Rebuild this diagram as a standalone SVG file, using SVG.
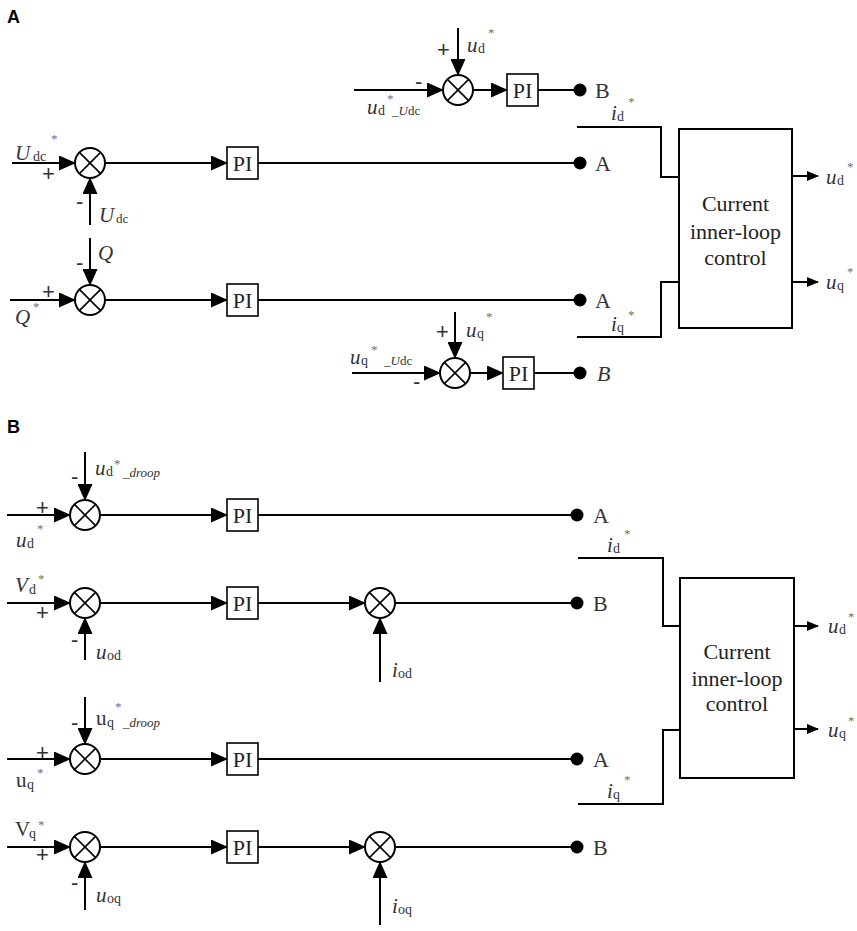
<svg xmlns="http://www.w3.org/2000/svg" width="857" height="931" viewBox="0 0 857 931">
<defs>
<marker id="ah" markerUnits="userSpaceOnUse" markerWidth="17" markerHeight="15" viewBox="0 0 17 15" refX="16" refY="7.5" orient="auto"><path d="M0,0 L17,7.5 L0,15 z" fill="#000"/></marker>
<marker id="ahs" markerUnits="userSpaceOnUse" markerWidth="12" markerHeight="10" viewBox="0 0 12 10" refX="11" refY="5" orient="auto"><path d="M0,0 L12,5 L0,10 z" fill="#000"/></marker>
</defs>
<style>
.ln{stroke:#000;stroke-width:2;fill:none}
.a{marker-end:url(#ah)}
.as{marker-end:url(#ahs)}
.sum circle{fill:#fff;stroke:#000;stroke-width:2}
.sum line{stroke:#000;stroke-width:1.6}
.pi rect{fill:#fff;stroke:#000;stroke-width:1.6}
.pi text,.blk text{font-family:"Liberation Serif","Times New Roman",serif;font-size:22px;fill:#222;text-anchor:middle}
.blk rect{fill:#fff;stroke:#000;stroke-width:2}
.dot{fill:#000}
.t{font-family:"Liberation Serif","Times New Roman",serif;fill:#333;font-size:21px}
.it{font-style:italic}
.s{font-size:14px}
.ss{font-size:13px}
.st{font-size:13px;fill:#707070}
.sg{font-family:"Liberation Sans",Arial,sans-serif;font-size:22px;fill:#333}
.pl{font-family:"Liberation Sans",Arial,sans-serif;font-weight:bold;font-size:18px;fill:#000}
.ab{font-family:"Liberation Serif","Times New Roman",serif;font-size:22px;fill:#333}
</style>

<!-- panel labels -->
<text class="pl" x="7" y="23">A</text>
<text class="pl" x="7" y="433">B</text>

<!-- connectors -->
<g id="connectors">
  <!-- Panel A row Udc -->
  <line class="ln a" x1="12" y1="163" x2="75" y2="163"/>
  <line class="ln a" x1="90" y1="225" x2="90" y2="178"/>
  <line class="ln a" x1="105" y1="163" x2="227" y2="163"/>
  <line class="ln" x1="258" y1="163" x2="580" y2="163"/>
  <!-- Panel A row Q -->
  <line class="ln a" x1="10" y1="300" x2="75" y2="300"/>
  <line class="ln a" x1="90" y1="238" x2="90" y2="285"/>
  <line class="ln a" x1="105" y1="300" x2="227" y2="300"/>
  <line class="ln" x1="258" y1="300" x2="580" y2="300"/>
  <!-- top sum -->
  <line class="ln a" x1="354" y1="90" x2="443" y2="90"/>
  <line class="ln a" x1="458" y1="28" x2="458" y2="75"/>
  <line class="ln a" x1="473" y1="90" x2="507" y2="90"/>
  <line class="ln" x1="538" y1="90" x2="580" y2="90"/>
  <!-- bottom sum A -->
  <line class="ln a" x1="352" y1="373" x2="440" y2="373"/>
  <line class="ln a" x1="455" y1="312" x2="455" y2="358"/>
  <line class="ln a" x1="470" y1="373" x2="503" y2="373"/>
  <line class="ln" x1="534" y1="373" x2="580" y2="373"/>
  <!-- A block inputs / outputs -->
  <polyline class="ln" points="577,127 661,127 661,177 679,177"/>
  <polyline class="ln" points="577,337 661,337 661,282 679,282"/>
  <line class="ln as" x1="792" y1="176" x2="818" y2="176"/>
  <line class="ln as" x1="792" y1="282" x2="818" y2="282"/>

  <!-- Panel B row 1 -->
  <line class="ln a" x1="7" y1="515" x2="70" y2="515"/>
  <line class="ln a" x1="85" y1="452" x2="85" y2="500"/>
  <line class="ln a" x1="100" y1="515" x2="227" y2="515"/>
  <line class="ln" x1="258" y1="515" x2="577" y2="515"/>
  <!-- row 2 -->
  <line class="ln a" x1="7" y1="603" x2="70" y2="603"/>
  <line class="ln a" x1="85" y1="660" x2="85" y2="618"/>
  <line class="ln a" x1="100" y1="603" x2="227" y2="603"/>
  <line class="ln a" x1="258" y1="603" x2="365" y2="603"/>
  <line class="ln a" x1="380" y1="682" x2="380" y2="618"/>
  <line class="ln" x1="395" y1="603" x2="577" y2="603"/>
  <!-- row 3 -->
  <line class="ln a" x1="7" y1="759" x2="70" y2="759"/>
  <line class="ln a" x1="85" y1="697" x2="85" y2="744"/>
  <line class="ln a" x1="100" y1="759" x2="227" y2="759"/>
  <line class="ln" x1="258" y1="759" x2="577" y2="759"/>
  <!-- row 4 -->
  <line class="ln a" x1="7" y1="847" x2="70" y2="847"/>
  <line class="ln a" x1="85" y1="910" x2="85" y2="862"/>
  <line class="ln a" x1="100" y1="847" x2="227" y2="847"/>
  <line class="ln a" x1="258" y1="847" x2="365" y2="847"/>
  <line class="ln a" x1="380" y1="925" x2="380" y2="862"/>
  <line class="ln" x1="395" y1="847" x2="577" y2="847"/>
  <!-- B block inputs / outputs -->
  <polyline class="ln" points="578,558 663,558 663,626 680,626"/>
  <polyline class="ln" points="578,804 663,804 663,730 680,730"/>
  <line class="ln as" x1="794" y1="626" x2="818" y2="626"/>
  <line class="ln as" x1="794" y1="729" x2="818" y2="729"/>
</g>

<!-- Panel A nodes -->
<g id="sumA1" class="sum"><circle cx="90" cy="163" r="15"/><line x1="79.4" y1="152.4" x2="100.6" y2="173.6"/><line x1="79.4" y1="173.6" x2="100.6" y2="152.4"/></g>
<g id="sumA2" class="sum"><circle cx="90" cy="300" r="15"/><line x1="79.4" y1="289.4" x2="100.6" y2="310.6"/><line x1="79.4" y1="310.6" x2="100.6" y2="289.4"/></g>
<g id="sumA3" class="sum"><circle cx="458" cy="90" r="15"/><line x1="447.4" y1="79.4" x2="468.6" y2="100.6"/><line x1="447.4" y1="100.6" x2="468.6" y2="79.4"/></g>
<g id="sumA4" class="sum"><circle cx="455" cy="373" r="15"/><line x1="444.4" y1="362.4" x2="465.6" y2="383.6"/><line x1="444.4" y1="383.6" x2="465.6" y2="362.4"/></g>

<g id="piA1" class="pi"><rect x="227" y="147" width="31" height="32"/><text x="242.5" y="171">PI</text></g>
<g id="piA2" class="pi"><rect x="227" y="284" width="31" height="32"/><text x="242.5" y="308">PI</text></g>
<g id="piA3" class="pi"><rect x="507" y="74" width="31" height="32"/><text x="522.5" y="98">PI</text></g>
<g id="piA4" class="pi"><rect x="503" y="357" width="31" height="32"/><text x="518.5" y="381">PI</text></g>

<g id="dotsA">
  <circle class="dot" cx="580" cy="90" r="6.5"/>
  <circle class="dot" cx="580" cy="163" r="6.5"/>
  <circle class="dot" cx="580" cy="300" r="6.5"/>
  <circle class="dot" cx="580" cy="373" r="6.5"/>
</g>

<g id="ctrlA" class="blk">
  <rect x="679" y="129" width="113" height="199"/>
  <text x="735.5" y="211">Current</text>
  <text x="735.5" y="239">inner-loop</text>
  <text x="735.5" y="265">control</text>
</g>

<!-- Panel B nodes -->
<g id="sumB1" class="sum"><circle cx="85" cy="515" r="15"/><line x1="74.4" y1="504.4" x2="95.6" y2="525.6"/><line x1="74.4" y1="525.6" x2="95.6" y2="504.4"/></g>
<g id="sumB2" class="sum"><circle cx="85" cy="603" r="15"/><line x1="74.4" y1="592.4" x2="95.6" y2="613.6"/><line x1="74.4" y1="613.6" x2="95.6" y2="592.4"/></g>
<g id="sumB3" class="sum"><circle cx="380" cy="603" r="15"/><line x1="369.4" y1="592.4" x2="390.6" y2="613.6"/><line x1="369.4" y1="613.6" x2="390.6" y2="592.4"/></g>
<g id="sumB4" class="sum"><circle cx="85" cy="759" r="15"/><line x1="74.4" y1="748.4" x2="95.6" y2="769.6"/><line x1="74.4" y1="769.6" x2="95.6" y2="748.4"/></g>
<g id="sumB5" class="sum"><circle cx="85" cy="847" r="15"/><line x1="74.4" y1="836.4" x2="95.6" y2="857.6"/><line x1="74.4" y1="857.6" x2="95.6" y2="836.4"/></g>
<g id="sumB6" class="sum"><circle cx="380" cy="847" r="15"/><line x1="369.4" y1="836.4" x2="390.6" y2="857.6"/><line x1="369.4" y1="857.6" x2="390.6" y2="836.4"/></g>

<g id="piB1" class="pi"><rect x="227" y="499" width="31" height="32"/><text x="242.5" y="523">PI</text></g>
<g id="piB2" class="pi"><rect x="227" y="587" width="31" height="32"/><text x="242.5" y="611">PI</text></g>
<g id="piB3" class="pi"><rect x="227" y="743" width="31" height="32"/><text x="242.5" y="767">PI</text></g>
<g id="piB4" class="pi"><rect x="227" y="831" width="31" height="32"/><text x="242.5" y="855">PI</text></g>

<g id="dotsB">
  <circle class="dot" cx="577" cy="515" r="6.5"/>
  <circle class="dot" cx="577" cy="603" r="6.5"/>
  <circle class="dot" cx="577" cy="759" r="6.5"/>
  <circle class="dot" cx="577" cy="847" r="6.5"/>
</g>

<g id="ctrlB" class="blk">
  <rect x="680" y="578" width="114" height="200"/>
  <text x="737" y="659">Current</text>
  <text x="737" y="686">inner-loop</text>
  <text x="737" y="711">control</text>
</g>

<!-- labels -->
<g id="labels">
  <!-- Panel A -->
  <text class="t"><tspan class="it" x="15" y="160">U</tspan><tspan class="s" x="33" y="161">dc</tspan><tspan class="st" x="51" y="143">*</tspan></text>
  <text class="sg" x="42" y="181">+</text>
  <text class="sg" x="76" y="209">-</text>
  <text class="t"><tspan class="it" x="99" y="222">U</tspan><tspan class="ss" x="116" y="223">dc</tspan></text>

  <text class="sg" x="437" y="57">+</text>
  <text class="t"><tspan class="it" x="467" y="52">u</tspan><tspan class="s" x="478" y="53">d</tspan><tspan class="st" x="488" y="37">*</tspan></text>
  <text class="sg" x="415" y="89">-</text>
  <text class="t"><tspan class="it" x="367" y="114">u</tspan><tspan class="s" x="378" y="115">d</tspan><tspan class="st" x="387" y="103">*</tspan><tspan class="ss" x="392" y="115">_</tspan><tspan class="ss it">U</tspan><tspan class="ss">dc</tspan></text>
  <text class="ab" x="595" y="98">B</text>
  <text class="ab" x="595" y="171">A</text>
  <text class="t"><tspan class="it" x="611" y="120">i</tspan><tspan class="s" x="617" y="121">d</tspan><tspan class="st" x="628" y="106">*</tspan></text>

  <text class="sg" x="76" y="270">-</text>
  <text class="t it" x="98" y="260">Q</text>
  <text class="sg" x="42" y="299">+</text>
  <text class="t"><tspan class="it" x="15" y="324">Q</tspan><tspan class="st" x="33" y="311">*</tspan></text>
  <text class="ab" x="595" y="308">A</text>
  <text class="t"><tspan class="it" x="611" y="331">i</tspan><tspan class="s" x="617" y="332">q</tspan><tspan class="st" x="628" y="319">*</tspan></text>

  <text class="sg" x="436" y="339">+</text>
  <text class="t"><tspan class="it" x="466" y="337">u</tspan><tspan class="s" x="477" y="338">q</tspan><tspan class="st" x="486" y="321">*</tspan></text>
  <text class="t"><tspan class="it" x="350" y="364">u</tspan><tspan class="s" x="361" y="365">q</tspan><tspan class="st" x="371" y="354">*</tspan><tspan class="ss" x="384" y="365">_</tspan><tspan class="ss it">U</tspan><tspan class="ss">dc</tspan></text>
  <text class="sg" x="413" y="389">-</text>
  <text class="ab it" x="597" y="381">B</text>

  <text class="t"><tspan class="it" x="826" y="184">u</tspan><tspan class="s" x="837" y="185">d</tspan><tspan class="st" x="847" y="171">*</tspan></text>
  <text class="t"><tspan class="it" x="826" y="289">u</tspan><tspan class="s" x="837" y="290">q</tspan><tspan class="st" x="847" y="276">*</tspan></text>

  <!-- Panel B -->
  <text class="sg" x="71" y="484">-</text>
  <text class="t"><tspan class="it" x="95" y="475">u</tspan><tspan class="s" x="106" y="476">d</tspan><tspan class="st" x="114" y="468">*</tspan><tspan class="ss it" x="123" y="477">_droop</tspan></text>
  <text class="sg" x="36" y="515">+</text>
  <text class="t"><tspan class="it" x="16" y="547">u</tspan><tspan class="s" x="27" y="548">d</tspan><tspan class="st" x="37" y="533">*</tspan></text>
  <text class="ab" x="593" y="523">A</text>
  <text class="t"><tspan class="it" x="607" y="552">i</tspan><tspan class="s" x="613" y="553">d</tspan><tspan class="st" x="624" y="538">*</tspan></text>

  <text class="t"><tspan class="it" x="15" y="592">V</tspan><tspan class="s" x="29" y="594">d</tspan><tspan class="st" x="38" y="583">*</tspan></text>
  <text class="sg" x="36" y="620">+</text>
  <text class="sg" x="71" y="647">-</text>
  <text class="t"><tspan class="it" x="96" y="659">u</tspan><tspan class="s" x="107" y="660">od</tspan></text>
  <text class="t"><tspan class="it" x="392" y="677">i</tspan><tspan class="s" x="398" y="678">od</tspan></text>
  <text class="ab" x="593" y="611">B</text>

  <text class="t"><tspan class="it" x="828" y="633">u</tspan><tspan class="s" x="839" y="634">d</tspan><tspan class="st" x="848" y="621">*</tspan></text>
  <text class="t"><tspan class="it" x="828" y="737">u</tspan><tspan class="s" x="839" y="738">q</tspan><tspan class="st" x="848" y="725">*</tspan></text>
  <text class="t"><tspan class="it" x="607" y="798">i</tspan><tspan class="s" x="613" y="799">q</tspan><tspan class="st" x="624" y="784">*</tspan></text>

  <text class="sg" x="71" y="730">-</text>
  <text class="t"><tspan x="96" y="725">u</tspan><tspan class="s" x="107" y="727">q</tspan><tspan class="st" x="115" y="711">*</tspan><tspan class="ss it" x="123" y="727">_droop</tspan></text>
  <text class="sg" x="36" y="760">+</text>
  <text class="t"><tspan x="16" y="787">u</tspan><tspan class="s" x="27" y="789">q</tspan><tspan class="st" x="37" y="777">*</tspan></text>
  <text class="ab" x="593" y="767">A</text>

  <text class="t"><tspan x="15" y="836">V</tspan><tspan class="s" x="29" y="838">q</tspan><tspan class="st" x="38" y="829">*</tspan></text>
  <text class="sg" x="36" y="862">+</text>
  <text class="sg" x="71" y="890">-</text>
  <text class="t"><tspan class="it" x="96" y="902">u</tspan><tspan class="s" x="107" y="903">oq</tspan></text>
  <text class="t"><tspan class="it" x="392" y="913">i</tspan><tspan class="s" x="398" y="914">oq</tspan></text>
  <text class="ab" x="593" y="855">B</text>
</g>
</svg>
